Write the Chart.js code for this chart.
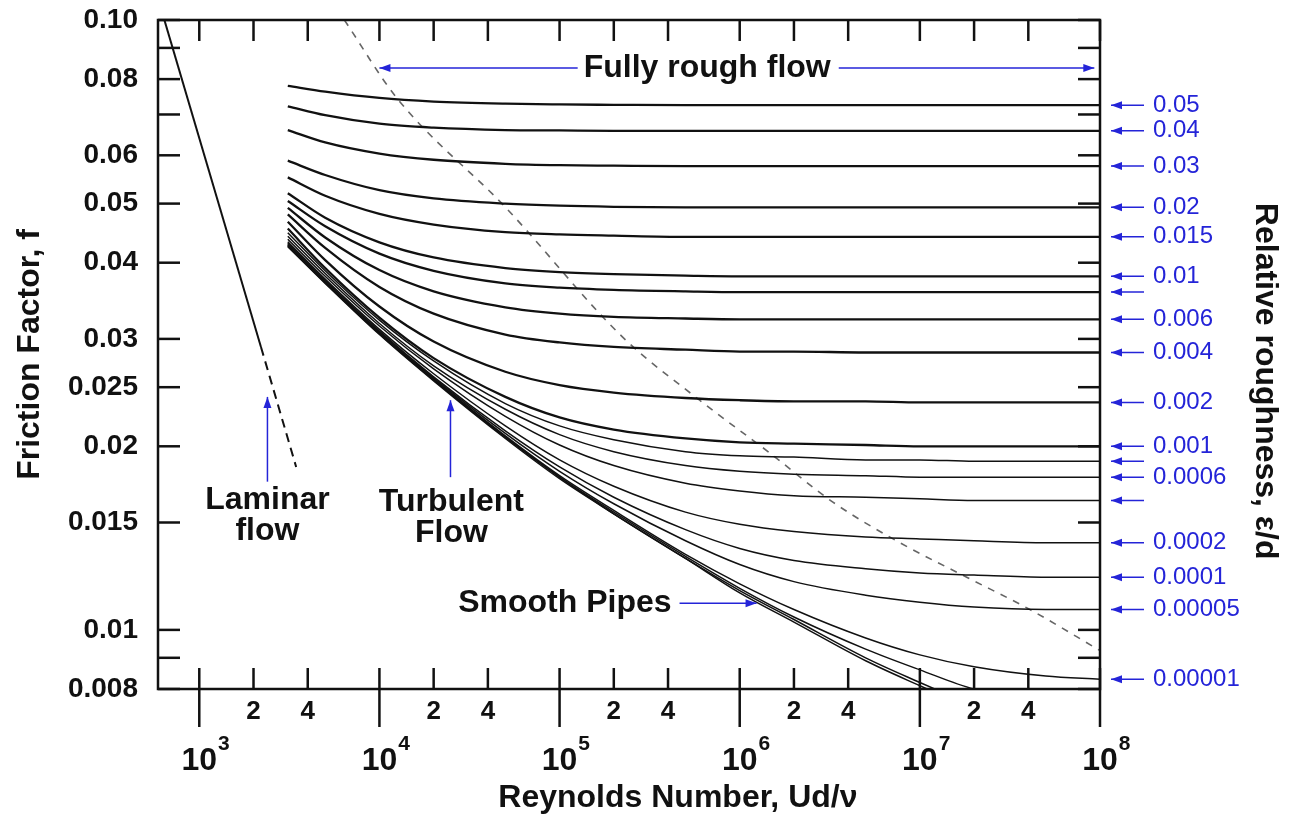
<!DOCTYPE html>
<html>
<head>
<meta charset="utf-8">
<script src="https://cdn.jsdelivr.net/npm/chart.js@4.4.1/dist/chart.umd.min.js"></script>
<style>
  html, body { margin: 0; padding: 0; background: #fff; }
  canvas { display: block; }
</style>
</head>
<body>
<canvas id="moody" width="1289" height="817"></canvas>
<script>
const reynolds = [3100, 5000, 1e4, 2e4, 5e4, 1e5, 2e5, 5e5, 1e6, 2e6, 5e6, 1e7, 2e7, 5e7, 1e8];

// friction factor for each relative roughness (e/d)
const f_05     = [0.0780, 0.0763, 0.0745, 0.0735, 0.0729, 0.0727, 0.0726, 0.0725, 0.0725, 0.0725, 0.0725, 0.0725, 0.0725, 0.0725, 0.0725];
const f_04     = [0.0722, 0.0698, 0.0676, 0.0666, 0.0660, 0.0659, 0.0658, 0.0658, 0.0658, 0.0658, 0.0658, 0.0658, 0.0658, 0.0658, 0.0658];
const f_03     = [0.0660, 0.0630, 0.0604, 0.0590, 0.0581, 0.0578, 0.0577, 0.0576, 0.0576, 0.0576, 0.0576, 0.0576, 0.0576, 0.0576, 0.0576];
const f_02     = [0.0588, 0.0557, 0.0526, 0.0510, 0.0500, 0.0496, 0.0494, 0.0493, 0.0493, 0.0493, 0.0493, 0.0493, 0.0493, 0.0493, 0.0493];
const f_015    = [0.0552, 0.0515, 0.0481, 0.0462, 0.0449, 0.0445, 0.0443, 0.0441, 0.0441, 0.0441, 0.0441, 0.0441, 0.0441, 0.0441, 0.0441];
const f_01     = [0.0520, 0.0474, 0.0432, 0.0408, 0.0392, 0.0386, 0.0383, 0.0381, 0.0380, 0.0380, 0.0380, 0.0380, 0.0380, 0.0380, 0.0380];
const f_008    = [0.0505, 0.0459, 0.0414, 0.0388, 0.0370, 0.0364, 0.0361, 0.0359, 0.0358, 0.0358, 0.0358, 0.0358, 0.0358, 0.0358, 0.0358];
const f_006    = [0.0492, 0.0440, 0.0389, 0.0359, 0.0338, 0.0330, 0.0326, 0.0324, 0.0323, 0.0323, 0.0323, 0.0323, 0.0323, 0.0323, 0.0323];
const f_004    = [0.0480, 0.0423, 0.0365, 0.0330, 0.0305, 0.0296, 0.0291, 0.0288, 0.0286, 0.0286, 0.0285, 0.0285, 0.0285, 0.0285, 0.0285];
const f_002    = [0.0467, 0.0404, 0.0339, 0.0297, 0.0265, 0.0252, 0.0245, 0.0240, 0.0238, 0.0237, 0.0237, 0.0236, 0.0236, 0.0236, 0.0236];
const f_001    = [0.0455, 0.0392, 0.0325, 0.0279, 0.0241, 0.0223, 0.0213, 0.0206, 0.0203, 0.0202, 0.0201, 0.0200, 0.0200, 0.0200, 0.0200];
const f_0008   = [0.0448, 0.0388, 0.0322, 0.0276, 0.0235, 0.0216, 0.0205, 0.0196, 0.0193, 0.0192, 0.0190, 0.0190, 0.0189, 0.0189, 0.0189];
const f_0006   = [0.0442, 0.0384, 0.0318, 0.0271, 0.0230, 0.0209, 0.0196, 0.0186, 0.0182, 0.0180, 0.0179, 0.0178, 0.0178, 0.0178, 0.0178];
const f_0004   = [0.0437, 0.0380, 0.0315, 0.0268, 0.0224, 0.0201, 0.0186, 0.0174, 0.0169, 0.0166, 0.0165, 0.0164, 0.0163, 0.0163, 0.0163];
const f_0002   = [0.0433, 0.0376, 0.0311, 0.0263, 0.0216, 0.0190, 0.0172, 0.0156, 0.0149, 0.0145, 0.0142, 0.0141, 0.0140, 0.0139, 0.0139];
const f_0001   = [0.0431, 0.0374, 0.0309, 0.0260, 0.0212, 0.0185, 0.0165, 0.0146, 0.0136, 0.0130, 0.0126, 0.0124, 0.0123, 0.0122, 0.0122];
const f_00005  = [0.0429, 0.0373, 0.0308, 0.0259, 0.0210, 0.0182, 0.0161, 0.0140, 0.0128, 0.0120, 0.0114, 0.0111, 0.0109, 0.0108, 0.0108];
const f_00001  = [0.0428, 0.0372, 0.0307, 0.0258, 0.0208, 0.0179, 0.0157, 0.0133, 0.0119, 0.0108, 0.0097, 0.0091, 0.0087, 0.0084, 0.0083];
const f_000005 = [0.0427, 0.0371, 0.0306, 0.0257, 0.0207, 0.0178, 0.0156, 0.0132, 0.0117, 0.0105, 0.0093, 0.0086, 0.0080, 0.0077, 0.0075];
const f_000001 = [0.0426, 0.0371, 0.0306, 0.0257, 0.0207, 0.0178, 0.0155, 0.0131, 0.0116, 0.0104, 0.0090, 0.0082, 0.0075, null, null];
const f_smooth = [0.0425, 0.0370, 0.0305, 0.0256, 0.0206, 0.0177, 0.0155, 0.0131, 0.0115, 0.0103, 0.0089, 0.0081, 0.0074, null, null];

// labels on the right, one per arrow (empty = arrow only)
const roughnessLabels = ['0.05', '0.04', '0.03', '0.02', '0.015', '0.01', '', '0.006', '0.004',
  '0.002', '0.001', '', '0.0006', '', '0.0002', '0.0001', '0.00005', '0.00001'];

// laminar line f = 64/Re, solid then dashed
const laminarRe = [600, 2200];
const laminarF = [0.1067, 0.0291];
const laminarDashRe = [2200, 3450];
const laminarDashF = [0.0291, 0.0185];

// border of the fully rough zone
const roughRe = [6390, 12400, 50100, 224000, 599000, 1.47e6, 3.29e6, 7.74e6, 1.82e7, 4.08e7, 1e8];
const roughF = [0.1, 0.0747, 0.0493, 0.0302, 0.0238, 0.0195, 0.0162, 0.0139, 0.0122, 0.0108, 0.00925];

// axis ticks
const xTickValues = [1e3, 2e3, 4e3, 1e4, 2e4, 4e4, 1e5, 2e5, 4e5, 1e6, 2e6, 4e6, 1e7, 2e7, 4e7, 1e8];
const xMinorLabels = ['', '2', '4', '', '2', '4', '', '2', '4', '', '2', '4', '', '2', '4', ''];
const yTickValues = [0.008, 0.009, 0.01, 0.015, 0.02, 0.025, 0.03, 0.04, 0.05, 0.06, 0.07, 0.08, 0.09, 0.1];
const yTickLabels = ['0.008', '', '0.01', '0.015', '0.02', '0.025', '0.03', '0.04', '0.05', '0.06', '', '0.08', '', '0.10'];

const curves = [f_05, f_04, f_03, f_02, f_015, f_01, f_008, f_006, f_004, f_002, f_001,
  f_0008, f_0006, f_0004, f_0002, f_0001, f_00005, f_00001, f_000005, f_000001, f_smooth];

// right axis ticks sit where each labelled curve levels off
const asymptotes = roughnessLabels.map((l, i) => {
  const vals = curves[i].filter(v => v !== null);
  return vals[vals.length - 1];
});

const FONT = '"Liberation Sans", Arial, sans-serif';
const BLUE = '#2424d8';
Chart.defaults.font.family = FONT;

const pts = (xs, ys) => xs.map((x, k) => ({x: x, y: ys[k]}));

const datasets = curves.map((vals, i) => ({
  data: pts(reynolds, vals),
  borderColor: '#111',
  borderWidth: i < 11 ? 2.3 : 1.5,
  pointRadius: 0,
  cubicInterpolationMode: 'monotone',
}));
datasets.push({data: pts(laminarRe, laminarF), borderColor: '#111', borderWidth: 2, pointRadius: 0});
datasets.push({data: pts(laminarDashRe, laminarDashF), borderColor: '#111', borderWidth: 2,
  borderDash: [9, 6], pointRadius: 0});
datasets.push({data: pts(roughRe, roughF), borderColor: '#666', borderWidth: 1.6,
  borderDash: [7, 7], pointRadius: 0, cubicInterpolationMode: 'monotone'});

// text notes on the plot, anchored in data units
const notes = [
  {lines: ['Fully rough flow'], re: 6.6e5, f: 0.0834, left: 1.0e4, right: 9.3e7},
  {lines: ['Laminar', 'flow'], re: 2390, f: 0.0163, up: [0.0175, 0.0241]},
  {lines: ['Turbulent', 'Flow'], re: 25100, f: 0.0162, up: [0.0178, 0.0238], upRe: 24800},
  {lines: ['Smooth Pipes'], re: 1.07e5, f: 0.01106, right: 1.24e6},
];

function arrow(ctx, x1, y1, x2, y2) {
  const a = Math.atan2(y2 - y1, x2 - x1);
  ctx.beginPath();
  ctx.moveTo(x1, y1);
  ctx.lineTo(x2, y2);
  ctx.stroke();
  ctx.beginPath();
  ctx.moveTo(x2, y2);
  ctx.lineTo(x2 - 11 * Math.cos(a) + 4 * Math.sin(a), y2 - 11 * Math.sin(a) - 4 * Math.cos(a));
  ctx.lineTo(x2 - 11 * Math.cos(a) - 4 * Math.sin(a), y2 - 11 * Math.sin(a) + 4 * Math.cos(a));
  ctx.closePath();
  ctx.fill();
}

function seg(ctx, x1, y1, x2, y2) {
  ctx.beginPath();
  ctx.moveTo(x1, y1);
  ctx.lineTo(x2, y2);
  ctx.stroke();
}

const decor = {
  id: 'decor',
  afterDatasetsDraw(chart) {
    const {ctx, chartArea: a, scales} = chart;
    const x = scales.x, y = scales.y, y2 = scales.y2;
    ctx.save();

    // frame and inward ticks
    ctx.strokeStyle = '#111';
    ctx.lineWidth = 2.5;
    ctx.strokeRect(a.left, a.top, a.right - a.left, a.bottom - a.top);
    yTickValues.forEach(v => {
      const py = y.getPixelForValue(v);
      seg(ctx, a.left, py, a.left + 22, py);
      seg(ctx, a.right - 22, py, a.right, py);
    });
    xTickValues.forEach((v, i) => {
      const px = x.getPixelForValue(v);
      const major = xMinorLabels[i] === '';
      seg(ctx, px, a.top, px, a.top + 21);
      seg(ctx, px, a.bottom - 21, px, a.bottom + (major ? 38 : 0));
    });

    // decade labels 10^n
    ctx.fillStyle = '#111';
    xTickValues.forEach((v, i) => {
      if (xMinorLabels[i] !== '') return;
      const px = x.getPixelForValue(v);
      ctx.font = 'bold 32px ' + FONT;
      ctx.textAlign = 'center';
      ctx.textBaseline = 'alphabetic';
      ctx.fillText('10', px, a.bottom + 81);
      const w = ctx.measureText('10').width;
      ctx.font = 'bold 21px ' + FONT;
      ctx.textAlign = 'left';
      ctx.fillText(String(Math.round(Math.log10(v))), px + w / 2 + 1, a.bottom + 61);
    });

    // roughness arrows on the right
    ctx.strokeStyle = BLUE;
    ctx.fillStyle = BLUE;
    ctx.lineWidth = 1.5;
    y2.ticks.forEach(t => {
      const py = y2.getPixelForValue(t.value);
      arrow(ctx, a.right + 44, py, a.right + 11, py);
    });

    // notes
    ctx.font = 'bold 32px ' + FONT;
    ctx.textAlign = 'center';
    ctx.textBaseline = 'middle';
    notes.forEach(n => {
      const cx = x.getPixelForValue(n.re);
      const cy = y.getPixelForValue(n.f);
      ctx.fillStyle = '#111';
      n.lines.forEach((t, k) => ctx.fillText(t, cx, cy + k * 31));
      const w = ctx.measureText(n.lines[0]).width;
      ctx.strokeStyle = BLUE;
      ctx.fillStyle = BLUE;
      ctx.lineWidth = 1.5;
      if (n.left) arrow(ctx, cx - w / 2 - 6, cy, x.getPixelForValue(n.left), cy);
      if (n.right) arrow(ctx, cx + w / 2 + 8, cy, x.getPixelForValue(n.right), cy);
      if (n.up) {
        const ax = x.getPixelForValue(n.upRe || n.re);
        arrow(ctx, ax, y.getPixelForValue(n.up[0]), ax, y.getPixelForValue(n.up[1]));
      }
    });
    ctx.restore();
  }
};

new Chart(document.getElementById('moody'), {
  type: 'line',
  data: {datasets: datasets},
  options: {
    responsive: false,
    animation: false,
    layout: {padding: {top: 20, left: 0, right: 0, bottom: 0}},
    plugins: {legend: {display: false}, tooltip: {enabled: false}},
    scales: {
      x: {
        type: 'logarithmic',
        min: 590,
        max: 1e8,
        afterBuildTicks: s => { s.ticks = xTickValues.map(v => ({value: v})); },
        afterFit: s => { s.height = 128; },
        grid: {display: false, drawTicks: false},
        border: {display: false},
        ticks: {
          autoSkip: false, maxRotation: 0, padding: 7, color: '#111',
          font: {size: 26, weight: 'bold'},
          callback: (v, i) => xMinorLabels[i]
        },
        title: {
          display: true, text: '\u00a0'.repeat(11) + 'Reynolds Number, Ud/\u03bd', color: '#111',
          font: {size: 32, weight: 'bold'}, padding: {top: 1, bottom: 0}
        }
      },
      y: {
        type: 'logarithmic',
        position: 'left',
        min: 0.008,
        max: 0.1,
        afterBuildTicks: s => { s.ticks = yTickValues.map(v => ({value: v})); },
        afterFit: s => { s.width = 158; },
        // tickLength (not padding) keeps the labels off the axis without pushing the plot down
        grid: {display: false, drawTicks: true, tickLength: 18},
        border: {display: false},
        ticks: {
          autoSkip: false, padding: 2, color: '#111',
          font: {size: 28, weight: 'bold'},
          callback: (v, i) => yTickLabels[i]
        },
        title: {
          display: true, text: 'Friction Factor, f', color: '#111',
          font: {size: 32, weight: 'bold'}, padding: {top: 11, bottom: 0}
        }
      },
      y2: {
        type: 'logarithmic',
        position: 'right',
        min: 0.008,
        max: 0.1,
        afterBuildTicks: s => { s.ticks = asymptotes.map(v => ({value: v})); },
        afterFit: s => { s.width = 189; },
        grid: {display: false, drawTicks: true, tickLength: 50},
        border: {display: false},
        ticks: {
          autoSkip: false, padding: 3, color: BLUE,
          font: {size: 24, weight: 'normal'},
          callback: (v, i) => roughnessLabels[i]
        },
        title: {
          display: true, text: '\u00a0'.repeat(6) + 'Relative roughness, \u03b5/d', color: '#111',
          font: {size: 32, weight: 'bold'}, padding: {top: 5, bottom: 0}
        }
      }
    }
  },
  plugins: [decor]
});
</script>
</body>
</html>
